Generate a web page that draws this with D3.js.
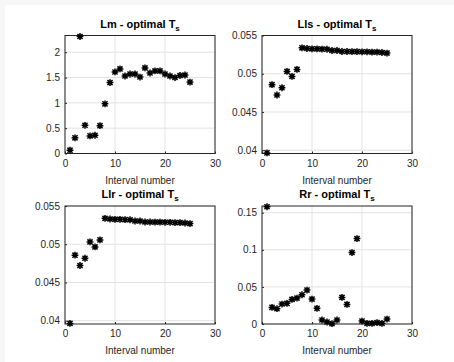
<!DOCTYPE html>
<html lang="en">
<head>
    <meta charset="UTF-8">
    <title>Optimal Ts per interval</title>
    <script src="https://d3js.org/d3.v7.min.js"></script>
    <style>
        body { margin: 0; background: #f7f7f7; }
        text { font-family: "Liberation Sans", Arial, sans-serif; }
        .tick text { fill: #262626; font-size: 10px; }
        .grid line { stroke: #e3e3e3; }
    </style>
</head>
<body>
    <svg width="454" height="362"></svg>

    <script>
        const intervals = d3.range(1, 26);

        const lmValues = [0.066, 0.31, 2.31, 0.557, 0.348, 0.36, 0.55, 0.98, 1.40, 1.61,
            1.67, 1.53, 1.57, 1.57, 1.51, 1.69, 1.59, 1.63, 1.63, 1.57,
            1.53, 1.50, 1.54, 1.55, 1.41];

        const llsValues = [0.03965, 0.04857, 0.04722, 0.04817, 0.0503, 0.04965, 0.05057, 0.05339, 0.0533, 0.05326,
            0.05326, 0.05322, 0.0532, 0.05304, 0.05304, 0.05291, 0.05291, 0.0529, 0.0529, 0.05287,
            0.05287, 0.05283, 0.05283, 0.05278, 0.0527];

        const llrValues = [0.03965, 0.04857, 0.04722, 0.04817, 0.0503, 0.04965, 0.05057, 0.05339, 0.0533, 0.05326,
            0.05326, 0.05322, 0.0532, 0.05304, 0.05304, 0.05291, 0.05291, 0.0529, 0.0529, 0.05287,
            0.05287, 0.05283, 0.05283, 0.05278, 0.0527];

        const rrValues = [0.158, 0.0224, 0.0206, 0.0269, 0.0278, 0.0331, 0.0349, 0.0394, 0.0457, 0.0336,
            0.0211, 0.0054, 0.0027, 0.0004, 0.0054, 0.0358, 0.0264, 0.0963, 0.1151, 0.004,
            0.0009, 0.0009, 0.0018, 0.0009, 0.0067];

        const xTicks = [0, 10, 20, 30];
        const lmTicks = [0, 0.5, 1, 1.5, 2];
        const lTicks = [0.04, 0.045, 0.05, 0.055];
        const rrTicks = [0, 0.05, 0.1, 0.15];

        const panels = [
            { name: 'Lm', values: lmValues, ticks: lmTicks, domain: [0, 2.33], left: 65, top: 35.5 },
            { name: 'Lls', values: llsValues, ticks: lTicks, domain: [0.03957, 0.055], left: 262, top: 35.5 },
            { name: 'Llr', values: llrValues, ticks: lTicks, domain: [0.03957, 0.055], left: 65, top: 206 },
            { name: 'Rr', values: rrValues, ticks: rrTicks, domain: [0, 0.159], left: 262, top: 206 }
        ];

        const svg = d3.select('svg');
        const plotW = 150;
        const plotH = 118;

        svg.append('rect')
            .attr('x', 5).attr('y', 5)
            .attr('width', 449).attr('height', 357)
            .attr('fill', 'white');

        // asterisk marker: plus + cross
        const r = 3.4;
        const starPath = `M${-r},0L${r},0M0,${-r}L0,${r}` +
            `M${-r * 0.75},${-r * 0.75}L${r * 0.75},${r * 0.75}M${-r * 0.75},${r * 0.75}L${r * 0.75},${-r * 0.75}`;

        panels.forEach(p => {
            const g = svg.append('g').attr('transform', `translate(${p.left},${p.top})`);

            const x = d3.scaleLinear().domain([0, 30]).range([0, plotW]);
            const y = d3.scaleLinear().domain(p.domain).range([plotH, 0]);

            // grid
            g.append('g').attr('class', 'grid')
                .selectAll('line.gx').data(xTicks).enter().append('line')
                .attr('x1', d => x(d)).attr('x2', d => x(d))
                .attr('y1', 0).attr('y2', plotH);
            g.append('g').attr('class', 'grid')
                .selectAll('line.gy').data(p.ticks).enter().append('line')
                .attr('x1', 0).attr('x2', plotW)
                .attr('y1', d => y(d)).attr('y2', d => y(d));

            // axes
            const xAxis = g.append('g')
                .attr('transform', `translate(0,${plotH})`)
                .call(d3.axisBottom(x).tickValues(xTicks).tickSizeInner(-2).tickSizeOuter(0).tickPadding(6));
            const yAxis = g.append('g')
                .call(d3.axisLeft(y).tickValues(p.ticks).tickFormat(d => String(+d.toFixed(4))).tickSizeInner(-2).tickSizeOuter(0).tickPadding(5));
            [xAxis, yAxis].forEach(a => {
                a.select('.domain').remove();
                a.selectAll('.tick line').attr('stroke', '#262626');
            });

            // box
            g.append('rect')
                .attr('width', plotW).attr('height', plotH)
                .attr('fill', 'none')
                .attr('stroke', '#262626')
                .attr('stroke-width', 1);

            // points
            g.selectAll('path.pt').data(p.values).enter().append('path')
                .attr('class', 'pt')
                .attr('d', starPath)
                .attr('transform', (d, i) => `translate(${x(intervals[i])},${y(d)})`)
                .attr('stroke', 'black')
                .attr('stroke-width', 1.5)
                .attr('fill', 'none');

            // title
            const title = g.append('text')
                .attr('x', plotW / 2)
                .attr('y', -8)
                .attr('text-anchor', 'middle')
                .style('font-size', '11px')
                .style('font-weight', 'bold')
                .attr('fill', 'black');
            title.append('tspan').text(`${p.name} - optimal T`);
            title.append('tspan').text('s')
                .attr('dy', 3)
                .style('font-size', '8px');

            // x label
            g.append('text')
                .attr('x', plotW / 2)
                .attr('y', plotH + 30)
                .attr('text-anchor', 'middle')
                .style('font-size', '10px')
                .attr('fill', '#262626')
                .text('Interval number');
        });
    </script>
</body>
</html>
